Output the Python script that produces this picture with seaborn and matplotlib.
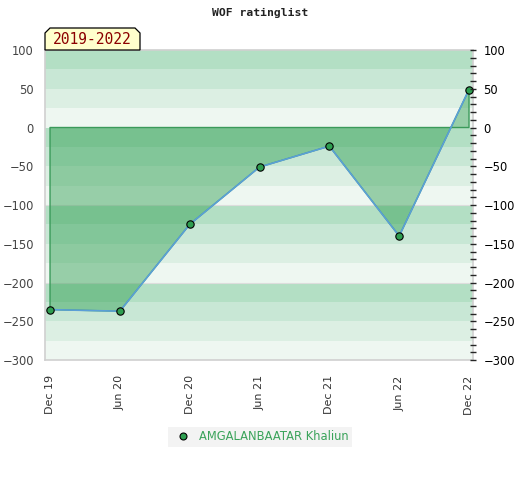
import numpy as np
import pandas as pd
import matplotlib
matplotlib.use('Agg')
import matplotlib.pyplot as plt
from matplotlib.patches import Polygon
from matplotlib.ticker import MultipleLocator
import seaborn as sns

sns.set_style('white')
plt.rcParams['font.family'] = ['DejaVu Sans']

periods = ["Dec 19", "Jun 20", "Dec 20", "Jun 21", "Dec 21", "Jun 22", "Dec 22"]
rating = [-235, -237, -125, -51, -24, -140, 49]
player = "AMGALANBAATAR Khaliun"
title = "WOF ratinglist"
span_label = "2019-2022"

band_colors = ['#b3dfc4', '#c8e7d5', '#dcefe3', '#eef7f1']

df = pd.DataFrame({'pos': np.arange(len(periods)), 'rating': rating})

W, H = 520, 480
fig = plt.figure(figsize=(5.2, 4.8), dpi=100)
ax = fig.add_axes([45 / W, 0.25, 428 / W, 0.6458])

# background bands, 4 per 100 points, darkest on top
for top in range(100, -300, -25):
    idx = ((100 - top) // 25) % 4
    ax.axhspan(top - 25, top, color=band_colors[idx], lw=0, zorder=0)
for y in [-100, -200]:
    ax.axhline(y, color='#dddddd', lw=0.8, zorder=0.5)

ax.fill_between(df['pos'], df['rating'], 0, facecolor='#2e9e50', alpha=0.45,
                edgecolor='none', zorder=1)
ax.fill_between(df['pos'], df['rating'], 0, facecolor='none',
                edgecolor='#3a9a5a', lw=1.0, zorder=1.5)
sns.lineplot(data=df, x='pos', y='rating', ax=ax, color='#5b9fd8', lw=1.2, zorder=2)
sns.scatterplot(data=df, x='pos', y='rating', ax=ax, color='#2e9e50', edgecolor='black',
                linewidth=0.8, s=28, zorder=3)

ax.set_xlim(-0.072, 6.057)
ax.set_ylim(-300, 100)
ax.set_xlabel('')
ax.set_ylabel('')
ax.set_xticks(df['pos'])
ax.set_xticklabels(periods, rotation=90, fontsize=8, color='#333333')
ax.yaxis.set_major_locator(MultipleLocator(50))
ax.tick_params(axis='y', length=0, pad=8, labelsize=8.3, labelcolor='#444444')
ax.tick_params(axis='x', length=0, pad=11)
for s in ax.spines.values():
    s.set_color('#d0d0d0')
    s.set_linewidth(1.2)

ax2 = ax.twinx()
ax2.set_ylim(-300, 100)
ax2.yaxis.set_major_locator(MultipleLocator(50))
ax2.yaxis.set_minor_locator(MultipleLocator(10))
ax2.tick_params(axis='y', which='major', direction='inout', length=5, width=1,
                pad=5, labelsize=8.3, labelcolor='black')
ax2.tick_params(axis='y', which='minor', direction='inout', length=4, width=1)
for s in ax2.spines.values():
    s.set_visible(False)

fig.text(0.5, 1 - 13 / H, title, ha='center', va='center', fontsize=8.2,
         fontweight='bold', family='DejaVu Sans Mono', color='#222222')

# label tab with chamfered top corners, sitting on the plot top edge
tab = [(45, 50), (45, 33), (50, 28), (135, 28), (140, 33), (140, 50)]
fig.patches.append(Polygon([(x / W, 1 - y / H) for x, y in tab], closed=True,
                           facecolor='#ffffcc', edgecolor='black', lw=0.9,
                           transform=fig.transFigure, zorder=5))
fig.text(92.5 / W, 1 - 40 / H, span_label, ha='center', va='center', fontsize=10.5,
         family='DejaVu Sans Mono', color='#8b0000', zorder=6)

h = plt.Line2D([], [], marker='o', ls='none', markerfacecolor='#2e9e50',
               markeredgecolor='black', markeredgewidth=0.8, markersize=5)
leg = fig.legend([h], [player], loc='center', bbox_to_anchor=(0.5, 1 - 437 / H),
                 frameon=True, fontsize=8.3, handletextpad=0.4, borderpad=0.3,
                 fancybox=False)
leg.get_frame().set_facecolor('#f0f0f0')
leg.get_frame().set_edgecolor('none')
for t in leg.get_texts():
    t.set_color('#3aa35a')

fig.savefig('out.png', dpi=100)
